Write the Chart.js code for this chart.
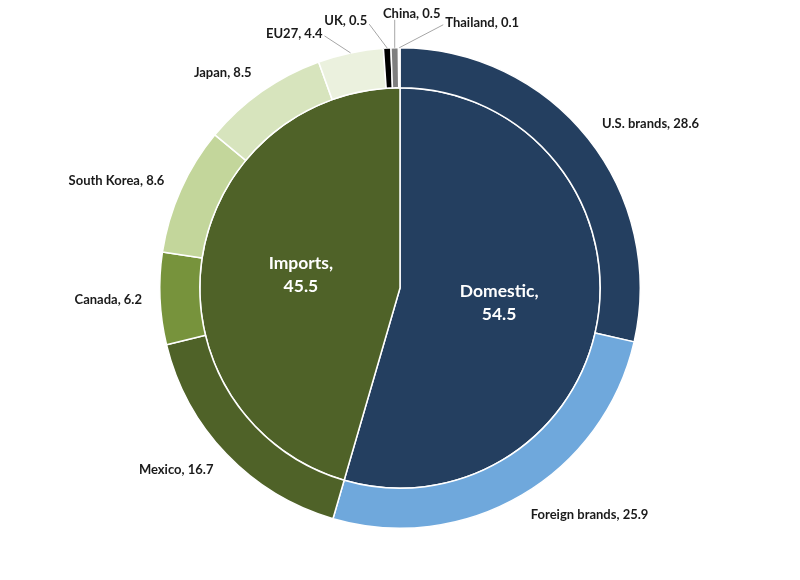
<!DOCTYPE html>
<html>
<head>
<meta charset="utf-8">
<script src="https://cdn.jsdelivr.net/npm/chart.js@4/dist/chart.umd.min.js"></script>
<style>
	body { margin: 0; background: #fff; }
</style>
</head>
<body>
<canvas id="chart" width="800" height="580"></canvas>
<script>
// inner pie: where the vehicles come from
const groupLabels = [ 'Domestic', 'Imports' ];
const groupValues = [ 54.5, 45.5 ];
const groupColors = [ '#243F60', '#4F6228' ];

// outer ring: breakdown by brand / source country
const sourceLabels = [ 'U.S. brands', 'Foreign brands', 'Mexico', 'Canada', 'South Korea', 'Japan', 'EU27', 'UK', 'China', 'Thailand' ];
const sourceValues = [ 28.6, 25.9, 16.7, 6.2, 8.6, 8.5, 4.4, 0.5, 0.5, 0.1 ];
const sourceColors = [ '#243F60', '#6FA8DC', '#4F6228', '#77933C', '#C3D69B', '#D7E4BD', '#EBF1DE', '#000000', '#7F7F7F', '#F2F2F2' ];

// small slices at the top get leader lines: line end offset from the arc edge, text shift, alignment
const leaderLines = {
	'EU27': { line: [ -26, -17 ], text: [ -2, -2 ], align: 'right' },
	'UK': { line: [ -18, -24 ], text: [ -2, -3 ], align: 'right' },
	'China': { line: [ 0, -28 ], text: [ 17, -6 ], align: 'center' },
	'Thailand': { line: [ 44, -23 ], text: [ 2, -2 ], align: 'left' },
};

const FONT = 'Lato, "Open Sans", sans-serif';

const labelPlugin = {
	id: 'sliceLabels',
	afterDatasetsDraw: ( chart ) => {
		const ctx = chart.ctx;
		ctx.save();

		// outer ring labels
		const outer = chart.getDatasetMeta( 0 ).data;
		ctx.font = 'bold 13px ' + FONT;
		ctx.fillStyle = '#1a1a1a';
		ctx.textBaseline = 'middle';
		outer.forEach( ( arc, i ) => {
			const mid = ( arc.startAngle + arc.endAngle ) / 2;
			const cos = Math.cos( mid ), sin = Math.sin( mid );
			const text = sourceLabels[ i ] + ', ' + sourceValues[ i ];
			const leader = leaderLines[ sourceLabels[ i ] ];
			if ( leader ) {
				const px = arc.x + cos * arc.outerRadius;
				const py = arc.y + sin * arc.outerRadius;
				const ex = px + leader.line[ 0 ];
				const ey = py + leader.line[ 1 ];
				ctx.strokeStyle = '#A6A6A6';
				ctx.lineWidth = 1;
				ctx.beginPath();
				ctx.moveTo( px, py );
				ctx.lineTo( ex, ey );
				ctx.stroke();
				ctx.textAlign = leader.align;
				ctx.fillText( text, ex + leader.text[ 0 ], ey + leader.text[ 1 ] );
				return;
			}
			const r = arc.outerRadius + 18;
			ctx.textAlign = cos >= 0 ? 'left' : 'right';
			ctx.fillText( text, arc.x + cos * r, arc.y + sin * r + sin * 5 );
		} );

		// inner pie labels
		const inner = chart.getDatasetMeta( 1 ).data;
		ctx.font = 'bold 17.5px ' + FONT;
		ctx.fillStyle = '#fff';
		ctx.textAlign = 'center';
		inner.forEach( ( arc, i ) => {
			const mid = ( arc.startAngle + arc.endAngle ) / 2;
			const r = arc.outerRadius / 2;
			const x = arc.x + Math.cos( mid ) * r;
			const y = arc.y + Math.sin( mid ) * r;
			ctx.fillText( groupLabels[ i ] + ',', x, y - 11 );
			ctx.fillText( String( groupValues[ i ] ), x, y + 12 );
		} );

		ctx.restore();
	}
};

const chart = new Chart( document.getElementById( 'chart' ).getContext( '2d' ), {
	type: 'doughnut',
	data: {
		labels: sourceLabels,
		datasets: [
			{
				data: sourceValues,
				backgroundColor: sourceColors,
				borderColor: '#fff',
				borderWidth: 1.5,
				weight: 1,
			},
			{
				data: groupValues,
				backgroundColor: groupColors,
				borderColor: '#fff',
				borderWidth: 1.5,
				weight: 5,
			},
		],
	},
	options: {
		responsive: false,
		animation: false,
		cutout: 0,
		layout: { padding: { top: 47, bottom: 51 } },
		plugins: {
			legend: { display: false },
			tooltip: { enabled: false },
		},
	},
	plugins: [ labelPlugin ],
} );
</script>
</body>
</html>
